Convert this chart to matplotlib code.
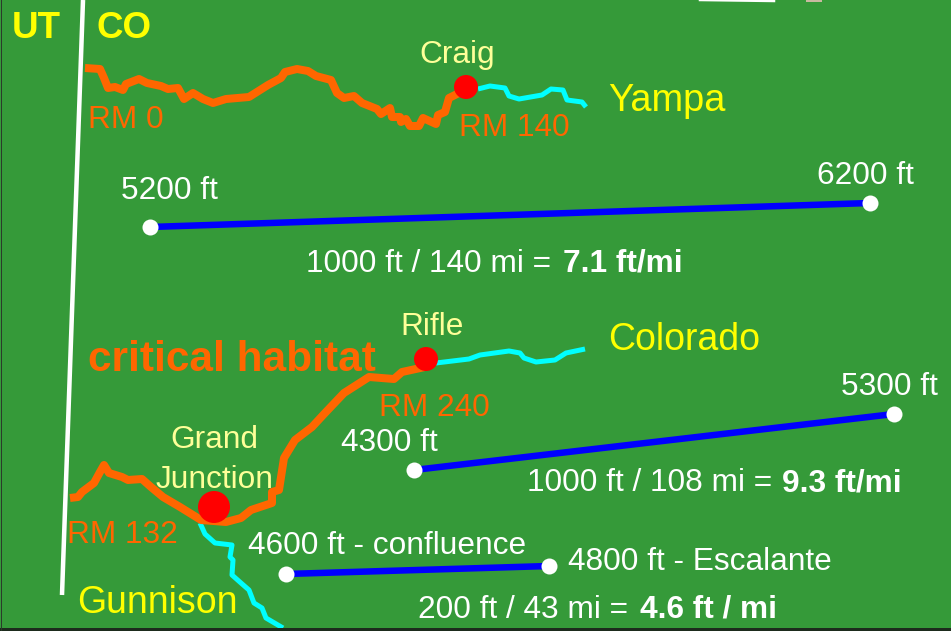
import matplotlib
matplotlib.use('Agg')
import matplotlib.pyplot as plt

plt.rcParams['font.family'] = ['Liberation Sans', 'DejaVu Sans']

###########################################################################
# Map data (pixels)
###########################################################################
yampa_hab_x = [85,100,104,108,115,123,126,139,147,161,168,178,184,193,203,213,226,249,268,281,285,297,308,316,331,337,344,354,362,377,381,390,392,400,401,406,410,419,423,436,438,445,449,459]
yampa_hab_y = [68,69,78,88,87,90,84,79,83,86,89,88,99,93,99,103,99,97,85,78,72,69,71,76,80,93,98,96,103,109,114,108,117,117,122,119,126,126,118,124,115,112,98,93]
yampa_up_x = [478,490,505,509,519,542,551,563,567,582,586]
yampa_up_y = [89,86,88,96,99,95,89,90,100,102,107]

colo_hab_x = [70,78,82,94,100,104,109,122,128,142,151,163,180,201,226,241,251,272,272,279,284,295,312,325,344,369,394,402,425]
colo_hab_y = [498,497,492,483,472,465,473,477,480,479,487,497,507,520,522,518,510,503,492,490,458,440,427,413,393,377,379,372,367]
colo_up_x = [436,469,480,509,520,524,536,555,566,585]
colo_up_y = [363,359,355,351,353,358,362,360,353,349]

gunn_x = [200,205,215,232,230,233,232,241,249,254,262,266,283]
gunn_y = [523,534,543,545,557,560,575,583,590,603,608,618,628]

border_x = [83,62]
border_y = [0,595]

# slope lines
yampa_grade_x = [150,870]
yampa_grade_y = [227,203]
colo_grade_x = [414,894]
colo_grade_y = [470,414]
gunn_grade_x = [286,549]
gunn_grade_y = [574,566]

towns = ['Craig','Rifle','Grand Junction']
town_x = [466,426,214]
town_y = [87,359,507]
town_d = [24,24,32]

GREEN = '#359a39'
ORANGE = '#ff6600'
CYAN = '#00ffff'
BLUE = '#0000ff'
RED = '#ff0000'
WHITE = '#ffffff'
YELLOW = '#ffff00'
PALE = '#ffff99'

###########################################################################
# Figure
###########################################################################
fig = plt.figure(figsize=(9.51,6.31), dpi=100, facecolor=GREEN)
ax = fig.add_axes([0,0,1,1])
ax.set_xlim(0,951)
ax.set_ylim(631,0)
ax.axis('off')
px = 0.72

def river(x, y, color, w):
    ax.plot(x, y, color=color, lw=w*px, solid_joinstyle='round', solid_capstyle='butt', zorder=2)

# edge bits from the original slide
ax.plot([0,951],[629,629], color='#1d2b1d', lw=3*px, zorder=5)
ax.plot([0.5,0.5],[0,631], color='#2b3a2b', lw=1*px, zorder=5)
ax.plot([700,774],[0,1], color=WHITE, lw=2.5*px, zorder=1)
ax.plot([808,820],[0,0], color='#c9b9a0', lw=4*px, zorder=1)

ax.plot(border_x, border_y, color=WHITE, lw=4.5*px, solid_capstyle='butt', zorder=2)
river(yampa_up_x, yampa_up_y, CYAN, 5)
river(colo_up_x, colo_up_y, CYAN, 5)
river(gunn_x, gunn_y, CYAN, 5)
river(yampa_hab_x, yampa_hab_y, ORANGE, 8)
river(colo_hab_x, colo_hab_y, ORANGE, 8)

ax.scatter(town_x, town_y, s=[(d*px)**2 for d in town_d], color=RED, linewidths=0, zorder=4)

for gx, gy in [(yampa_grade_x,yampa_grade_y),(colo_grade_x,colo_grade_y),(gunn_grade_x,gunn_grade_y)]:
    ax.plot(gx, gy, color=BLUE, lw=6.5*px, solid_capstyle='butt', zorder=3)
    ax.scatter(gx, gy, s=(16*px)**2, color=WHITE, linewidths=0, zorder=4)

def label(x, y, s, color, size, ha='left', weight='normal'):
    ax.text(x, y, s, color=color, fontsize=size, ha=ha, va='baseline', fontweight=weight, zorder=6)

label(12,38,'UT',YELLOW,26.5,weight='bold')
label(96,38,'CO',YELLOW,26.5,weight='bold')
label(457,63,'Craig',PALE,22.8,ha='center')
label(608,111,'Yampa',YELLOW,27.4)
label(88,128,'RM 0',ORANGE,22.8)
label(459,136,'RM 140',ORANGE,22.8)
label(121,199,'5200 ft',WHITE,22.8)
label(817,184,'6200 ft',WHITE,22.8)
label(306,272,'1000 ft / 140 mi = ',WHITE,22.8)
label(563,272,'7.1 ft/mi',WHITE,22.8,weight='bold')

label(88,371,'critical habitat',ORANGE,30.5,weight='bold')
label(432,335,'Rifle',PALE,22.8,ha='center')
label(608,350,'Colorado',YELLOW,27)
label(841,395,'5300 ft',WHITE,22.8)
label(379,416,'RM 240',ORANGE,22.8)
label(214,448,'Grand',PALE,22.8,ha='center')
label(214,488,'Junction',PALE,22.8,ha='center')
label(341,451,'4300 ft',WHITE,22.8)
label(527,491,'1000 ft / 108 mi = ',WHITE,22.8)
label(782,491,'9.3 ft/mi',WHITE,22.8,weight='bold')
label(67,543,'RM 132',ORANGE,22.8)
label(248,554,'4600 ft - confluence',WHITE,22.8)
label(568,570,'4800 ft - Escalante',WHITE,22.8)
label(77,613,'Gunnison',YELLOW,27)
label(418,618,'200 ft / 43 mi = ',WHITE,22.8)
label(640,618,'4.6 ft / mi',WHITE,22.8,weight='bold')

fig.savefig('out.png', dpi=100, facecolor=GREEN)
